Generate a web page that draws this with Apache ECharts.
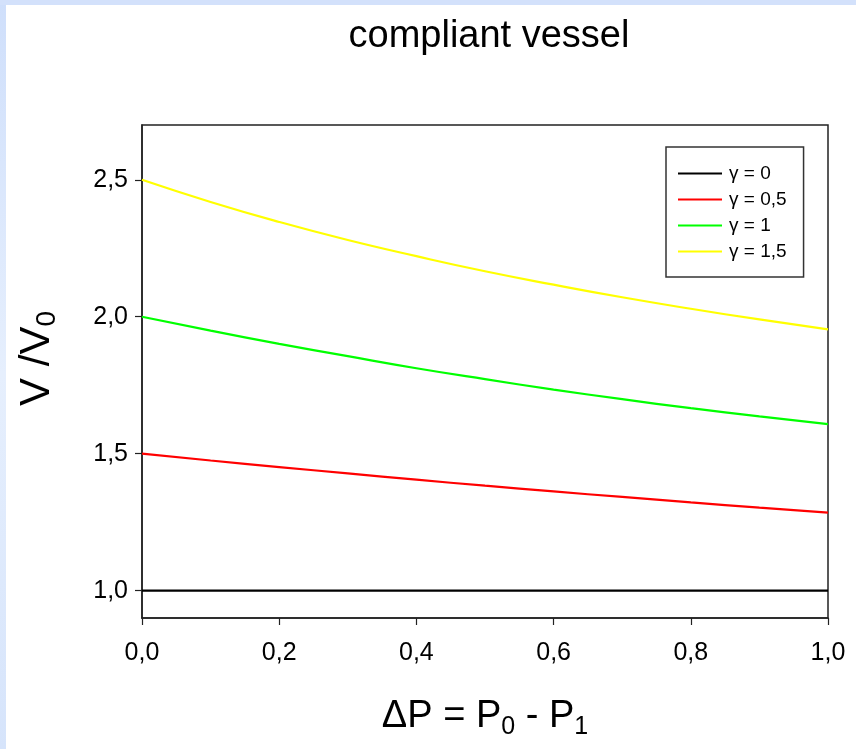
<!DOCTYPE html>
<html>
<head>
<meta charset="utf-8">
<script src="https://cdn.jsdelivr.net/npm/echarts@6/dist/echarts.min.js"></script>
<style>
  html, body { margin: 0; padding: 0; background: #ffffff; }
  #wrap { position: relative; width: 856px; height: 749px; overflow: hidden; }
  #stripL { position: absolute; left: 0; top: 0; width: 6px; height: 749px;
            background: linear-gradient(#cfdffb, #e6effd 50%, #d6e4fb); }
  #stripT { position: absolute; left: 0; top: 0; width: 856px; height: 5px; background: #d3e1fb; }
  #chart { position: absolute; left: 0; top: 0; width: 856px; height: 749px; }
</style>
</head>
<body>
<div id="wrap">
  <div id="stripL"></div>
  <div id="stripT"></div>
  <div id="chart"></div>
</div>
<script>
// ---- data ----
const dP = [0, 0.1, 0.2, 0.3, 0.4, 0.5, 0.6, 0.7, 0.8, 0.9, 1.0];
const gamma0  = [1, 1, 1, 1, 1, 1, 1, 1, 1, 1, 1];
const gamma05 = [1.5, 1.475, 1.451, 1.428, 1.405, 1.383, 1.362, 1.342, 1.322, 1.303, 1.285];
const gamma1  = [2.0, 1.949, 1.901, 1.856, 1.812, 1.772, 1.734, 1.699, 1.666, 1.636, 1.608];
const gamma15 = [2.5, 2.419, 2.346, 2.280, 2.221, 2.166, 2.117, 2.071, 2.029, 1.990, 1.954];
const seriesNames = ['γ = 0', 'γ = 0,5', 'γ = 1', 'γ = 1,5'];
const seriesColors = ['#000000', '#ff0000', '#00ff00', '#ffff00'];
const yTicks = [1.0, 1.5, 2.0, 2.5];
const titleText = 'compliant vessel';

const FONT = '"Liberation Sans", Arial, sans-serif';
const comma = v => v.toFixed(1).replace('.', ',');
const pairs = arr => dP.map((x, i) => [x, arr[i]]);
const allSeries = [gamma0, gamma05, gamma1, gamma15];

const chart = echarts.init(document.getElementById('chart'), null, { renderer: 'canvas' });
chart.setOption({
  backgroundColor: 'transparent',
  animation: false,
  title: {
    text: titleText,
    left: 484, textAlign: 'center', top: 13,
    textStyle: { fontFamily: FONT, fontSize: 38, fontWeight: 'normal', color: '#000' }
  },
  legend: {
    orient: 'vertical',
    left: 666, top: 147,
    padding: [17, 17, 16, 12],
    borderColor: '#333', borderWidth: 1.5,
    backgroundColor: '#fff',
    itemWidth: 44, itemHeight: 2, itemGap: 7,
    icon: 'rect',
    textStyle: { fontFamily: FONT, fontSize: 19, color: '#000', padding: [0, 0, 0, 2] },
    data: seriesNames
  },
  grid: {
    left: 142, right: 28, top: 125, bottom: 131,
    show: true, borderColor: '#222', borderWidth: 1.5, backgroundColor: 'transparent'
  },
  xAxis: {
    type: 'value', min: 0, max: 1, interval: 0.2,
    name: '{b|ΔP = P}{s|0}{b| - P}{s|1}',
    nameLocation: 'middle', nameGap: 76,
    nameTextStyle: {
      rich: {
        b: { fontFamily: FONT, fontSize: 38, color: '#000', lineHeight: 46 },
        s: { fontFamily: FONT, fontSize: 25, color: '#000', lineHeight: 46, verticalAlign: 'bottom', padding: [17, 0, 0, 0] }
      }
    },
    axisLine: { show: true, lineStyle: { color: '#222', width: 1.5 } },
    axisTick: { show: true, inside: false, length: 7, lineStyle: { color: '#222', width: 1.2 } },
    axisLabel: { fontFamily: FONT, fontSize: 25, color: '#000', margin: 23, formatter: comma },
    splitLine: { show: false }
  },
  yAxis: {
    type: 'value', min: 0.9, max: 2.7,
    name: '{b|V /V}{s|0}',
    nameLocation: 'middle', nameRotate: 90, nameGap: 81,
    nameTextStyle: {
      padding: [0, 0, 0, 26],
      rich: {
        b: { fontFamily: FONT, fontSize: 42, color: '#000', lineHeight: 48 },
        s: { fontFamily: FONT, fontSize: 28, color: '#000', lineHeight: 48, verticalAlign: 'bottom', padding: [18, 0, 0, 0] }
      }
    },
    axisLine: { show: true, lineStyle: { color: '#222', width: 1.5 } },
    axisTick: { show: true, inside: false, length: 7, customValues: yTicks, lineStyle: { color: '#222', width: 1.2 } },
    axisLabel: { fontFamily: FONT, fontSize: 25, color: '#000', margin: 14, customValues: yTicks, formatter: comma },
    splitLine: { show: false }
  },
  series: allSeries.map((arr, i) => ({
    name: seriesNames[i],
    type: 'line',
    data: pairs(arr),
    smooth: true,
    symbol: 'none',
    color: seriesColors[i],
    lineStyle: { color: seriesColors[i], width: 2.2 }
  }))
});
</script>
</body>
</html>
